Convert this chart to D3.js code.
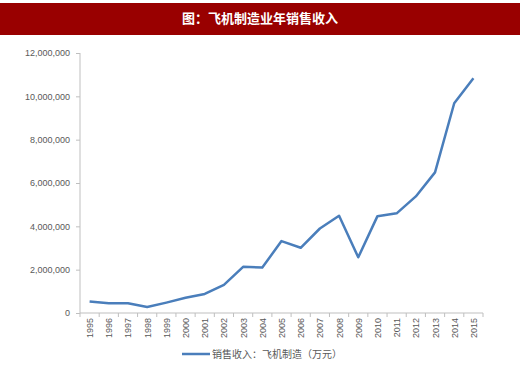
<!DOCTYPE html>
<html><head><meta charset="utf-8">
<script src="https://cdn.jsdelivr.net/npm/d3@7"></script>
<style>body{margin:0;background:#fff}svg{display:block}</style>
</head><body><svg id="c" width="520" height="366"></svg>
<script>
const years = ["1995","1996","1997","1998","1999","2000","2001","2002","2003","2004","2005","2006","2007","2008","2009","2010","2011","2012","2013","2014","2015"];
const revenue = [530000,450000,450000,280000,480000,700000,880000,1300000,2130000,2100000,3320000,3010000,3900000,4490000,2570000,4470000,4600000,5380000,6490000,9680000,10830000];
const yTicks = [0,2000000,4000000,6000000,8000000,10000000,12000000];
const title = "图：飞机制造业年销售收入";
const legendLabel = "销售收入：飞机制造（万元）";

const svg = d3.select("#c");
const cjk = "'Noto Sans CJK SC','Noto Sans',sans-serif";
const lat = "'Liberation Sans',Arial,sans-serif";

svg.append("rect").attr("x",0).attr("y",3).attr("width",520).attr("height",32).attr("fill","#990000");
svg.append("text").attr("x",260).attr("y",23).attr("text-anchor","middle")
  .attr("fill","#fff").attr("font-family",cjk).attr("font-weight","bold").attr("font-size",13).text(title);

const x = d3.scaleBand().domain(years).range([80,483]);
const y = d3.scaleLinear().domain([0,12000000]).range([313,53]);

const ya = svg.append("g").attr("transform","translate(80,0)")
  .call(d3.axisLeft(y).tickValues(yTicks).tickFormat(d3.format(",")).tickSize(4).tickPadding(6));
ya.select(".domain").attr("stroke","#bfbfbf").attr("d","M0,53V313");
ya.selectAll(".tick line").attr("stroke","#bfbfbf");
ya.selectAll("text").attr("fill","#595959").attr("font-family",lat).attr("font-size",9);

const xa = svg.append("g").attr("transform","translate(0,313)");
xa.append("line").attr("x1",80).attr("x2",483).attr("stroke","#bfbfbf");
const bounds = years.map(d=>x(d)).concat([x(years[years.length-1])+x.bandwidth()]);
xa.selectAll("line.t").data(bounds).join("line").attr("class","t")
  .attr("x1",d=>d).attr("x2",d=>d).attr("y1",0).attr("y2",4).attr("stroke","#bfbfbf");
xa.selectAll("text").data(years).join("text")
  .attr("transform",d=>`translate(${x(d)+x.bandwidth()/2+3.5},5) rotate(-90)`)
  .attr("fill","#595959").attr("font-family",lat).attr("font-size",9)
  .attr("text-anchor","end").text(d=>d);

const line = d3.line().x((d,i)=>x(years[i])+x.bandwidth()/2).y(d=>y(d));
svg.append("path").datum(revenue).attr("d",line).attr("fill","none")
  .attr("stroke","#4a7ebb").attr("stroke-width",2.5).attr("stroke-linejoin","round");

svg.append("line").attr("x1",182).attr("x2",210).attr("y1",354).attr("y2",354).attr("stroke","#4a7ebb").attr("stroke-width",2.5);
svg.append("text").attr("x",212).attr("y",358).attr("fill","#595959").attr("font-family",cjk).attr("font-size",10).text(legendLabel);
</script></body></html>
